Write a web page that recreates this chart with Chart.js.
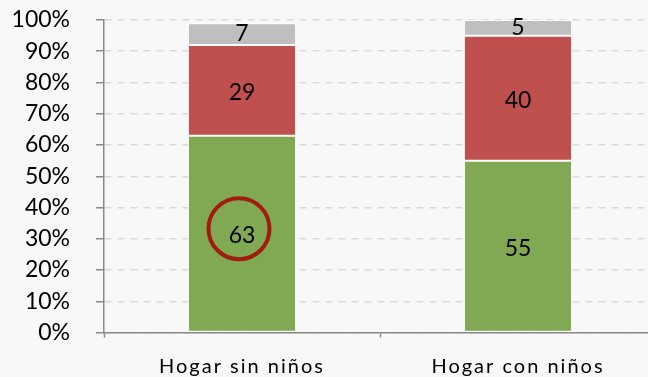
<!DOCTYPE html>
<html>
<head>
<meta charset="utf-8">
<script src="https://cdn.jsdelivr.net/npm/chart.js@4/dist/chart.umd.min.js"></script>
<style>
    html, body { margin: 0; padding: 0; background: #f8f8f8; overflow: hidden; }
    #wrap { width: 656px; height: 377px; }
</style>
</head>
<body>
<div id="wrap"><canvas id="hogar-chart" width="656" height="377"></canvas></div>
<script>
const categories = ['Hogar sin niños', 'Hogar con niños'];
const seriesGreen = [63, 55];
const seriesRed = [29, 40];
const seriesGrey = [7, 5];
const yTicks = [0, 10, 20, 30, 40, 50, 60, 70, 80, 90, 100];

const FONT = 'Lato, "DejaVu Sans", sans-serif';
const AXIS_GREY = '#8a8a8a';

// value labels centred on each stacked segment, plus the ring on the first green bar
const segmentLabels = {
    id: 'segmentLabels',
    afterDatasetsDraw(chart) {
        const ctx = chart.ctx;
        ctx.save();
        ctx.font = '23px ' + FONT;
        ctx.fillStyle = '#000';
        ctx.textAlign = 'center';
        ctx.textBaseline = 'middle';
        chart.data.datasets.forEach((ds, di) => {
            chart.getDatasetMeta(di).data.forEach((bar, i) => {
                const top = Math.min(bar.y, bar.base);
                const bottom = Math.max(bar.y, bar.base);
                const nudge = bottom - top > 40 ? 2 : 0;
                ctx.fillText(String(ds.data[i]), bar.x, (top + bottom) / 2 + nudge);
            });
        });

        const ring = chart.getDatasetMeta(0).data[0];
        const cy = (ring.y + ring.base) / 2 - 5;
        ctx.beginPath();
        ctx.arc(ring.x - 3, cy, 30.5, 0, Math.PI * 2);
        ctx.strokeStyle = '#a11c0e';
        ctx.lineWidth = 4;
        ctx.stroke();
        ctx.restore();
    }
};

// category labels on the x axis are drawn letter-spaced
const spacedXLabels = {
    id: 'spacedXLabels',
    beforeDraw(chart) {
        const xs = chart.scales.x;
        if (xs._spaced) return;
        const orig = xs.drawLabels;
        xs.drawLabels = function (area) {
            this.ctx.save();
            this.ctx.letterSpacing = '2px';
            orig.call(this, area);
            this.ctx.restore();
        };
        xs._spaced = true;
    }
};

const datasets = [
    { label: 'green', data: seriesGreen, backgroundColor: '#81a853' },
    { label: 'red', data: seriesRed, backgroundColor: '#c0504d' },
    { label: 'grey', data: seriesGrey, backgroundColor: '#bfbfbf' }
].map(d => Object.assign(d, {
    borderColor: '#ffffff',
    borderWidth: 1,
    borderSkipped: false,
    barPercentage: 0.392,
    categoryPercentage: 1
}));

new Chart(document.getElementById('hogar-chart'), {
    type: 'bar',
    data: { labels: categories, datasets: datasets },
    options: {
        responsive: false,
        animation: false,
        layout: { padding: { top: 20, right: 0, bottom: 0, left: 0 } },
        plugins: {
            legend: { display: false },
            tooltip: { enabled: false }
        },
        scales: {
            x: {
                stacked: true,
                afterFit: s => { s.height = 44.5; },
                grid: {
                    offset: true,
                    drawOnChartArea: false,
                    tickLength: 5,
                    tickColor: AXIS_GREY,
                    tickWidth: 1.5
                },
                border: { color: AXIS_GREY, width: 1.5 },
                ticks: {
                    padding: 17,
                    color: '#000',
                    font: { family: FONT, size: 20 }
                }
            },
            y: {
                stacked: true,
                min: 0,
                max: 100,
                // tick padding would otherwise also push the plot down from the top
                afterFit: s => {
                    s.width = 104;
                    s.paddingTop = 0;
                    s.paddingBottom = 0;
                },
                afterBuildTicks: s => { s.ticks = yTicks.map(v => ({ value: v })); },
                grid: {
                    color: '#d9d9d9',
                    lineWidth: 1.5,
                    tickLength: 8,
                    tickColor: AXIS_GREY,
                    tickWidth: 1.5,
                    tickBorderDash: []
                },
                border: { color: AXIS_GREY, width: 1.5, dash: [7, 6] },
                ticks: {
                    autoSkip: false,
                    padding: 26,
                    color: '#000',
                    font: { family: FONT, size: 23 },
                    callback: v => v + '%'
                }
            }
        }
    },
    plugins: [segmentLabels, spacedXLabels]
});
</script>
</body>
</html>
